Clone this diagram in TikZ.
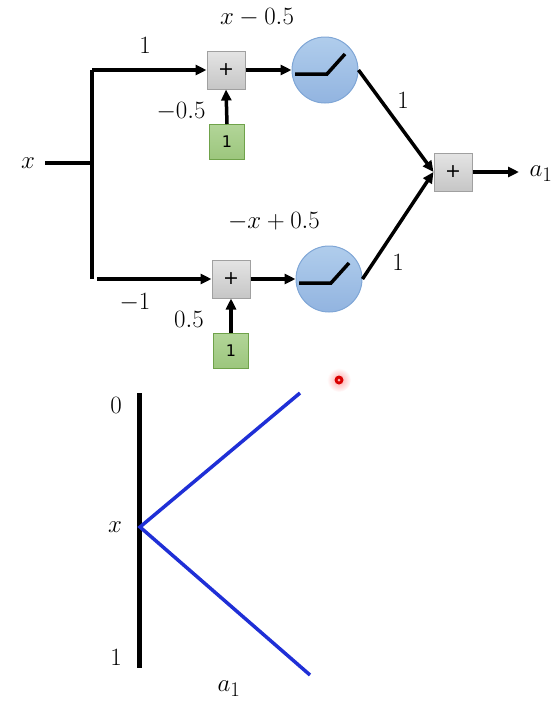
\documentclass[tikz,border=0pt]{standalone}
\usepackage{fontspec}
\usetikzlibrary{arrows.meta,shadings,calc}
\newfontfamily\boxfont{DejaVu Sans}
\definecolor{grayfillA}{HTML}{E4E4E4}
\definecolor{grayfillB}{HTML}{C6C6C6}
\definecolor{grayedge}{HTML}{A0A0A0}
\definecolor{greenA}{HTML}{B2D598}
\definecolor{greenB}{HTML}{9CC67D}
\definecolor{greenedge}{HTML}{6FA24A}
\definecolor{blueA}{HTML}{B0CDEC}
\definecolor{blueB}{HTML}{92B4E0}
\definecolor{blueedge}{HTML}{7FA6D6}
\definecolor{plotblue}{HTML}{1F2FD6}
\tikzset{
  sumbox/.style={draw=grayedge, line width=1pt, top color=grayfillA, bottom color=grayfillB, minimum size=38pt, inner sep=0pt, font=\boxfont\fontsize{19}{19}\selectfont},
  biasbox/.style={draw=greenedge, line width=1pt, top color=greenA, bottom color=greenB, minimum size=35pt, inner sep=0pt, font=\boxfont\fontsize{16}{16}\selectfont},
  neuron/.style={circle, draw=blueedge, line width=1pt, top color=blueA, bottom color=blueB, minimum size=66pt, inner sep=0pt},
  conn/.style={line width=3.5pt, -{Triangle[length=11pt,width=10pt]}},
  wire/.style={line width=3.5pt},
  lbl/.style={font=\fontsize{24.88}{30}\selectfont, inner sep=0pt},
  relu/.style={line width=3.5pt},
}
\begin{document}
\begin{tikzpicture}[x=1pt,y=-1pt]
\useasboundingbox (0,0) rectangle (557,702);
% top network
\node[lbl] (xin) at (28,163) {$x$};
\coordinate (xs) at (45,163);
\coordinate (split) at (92,163);
\coordinate (topc) at (92,70);
\coordinate (botc) at (92,279);
\coordinate (botstart) at (97,279);
\node[sumbox] (s1) at (226,70) {+};
\node[sumbox] (s2) at (231,279) {+};
\node[biasbox] (b1) at (227,142) {1};
\node[biasbox] (b2) at (231,351) {1};
\node[neuron] (n1) at (325,70) {};
\node[neuron] (n2) at (329,279) {};
\node[sumbox] (s3) at (453,172) {+};
\node[lbl] (aout) at (541,174) {$a_1$};
\coordinate (aend) at (519,172);

\draw[wire] (xs) -- (split);
\draw[wire] (topc) -- (botc);
\draw[conn] (topc) -- (s1.west);
\draw[conn] (botstart) -- (s2.west);
\draw[conn] (b1.north) -- (s1.south);
\draw[conn] (b2.north) -- (s2.south);
\draw[conn] (s1.east) -- (n1.west);
\draw[conn] (s2.east) -- (n2.west);
\draw[conn] (n1.east) -- (s3.west);
\draw[conn] (n2.east) -- (s3.west);
\draw[conn] (s3.east) -- (aend);

% relu glyphs
\draw[relu] ($(n1.center)+(-30,4)$) -- ++(32,0) -- ++(18,-20);
\draw[relu] ($(n2.center)+(-30,4)$) -- ++(32,0) -- ++(18,-20);

% labels
\node[lbl] at (145,45) {$1$};
\node[lbl] at (257,18) {$x-0.5$};
\node[lbl] at (181,112) {$-0.5$};
\node[lbl] at (274,222) {$-x+0.5$};
\node[lbl] at (135,303) {$-1$};
\node[lbl] at (189,319) {$0.5$};
\node[lbl] at (403,100) {$1$};
\node[lbl] at (398,262) {$1$};

% bottom plot
\coordinate (ax0) at (139,393);
\coordinate (ax1) at (139,668);
\coordinate (v) at (140,527);
\coordinate (p0) at (300,393);
\coordinate (p1) at (310,675);
\draw[line width=5pt] (ax0) -- (ax1);
\draw[plotblue, line width=3.5pt] (p0) -- (v) -- (p1);
\node[lbl] at (116,405) {$0$};
\node[lbl] at (115,527) {$x$};
\node[lbl] at (116,657) {$1$};
\node[lbl] at (229,689) {$a_1$};

% pointer dot
\shade[inner color=red!35, outer color=white] (339,380) circle (12);
\fill[red!85!black] (339,380) circle (4.5);
\fill[red!30] (339,380) circle (1.5);
\end{tikzpicture}
\end{document}
